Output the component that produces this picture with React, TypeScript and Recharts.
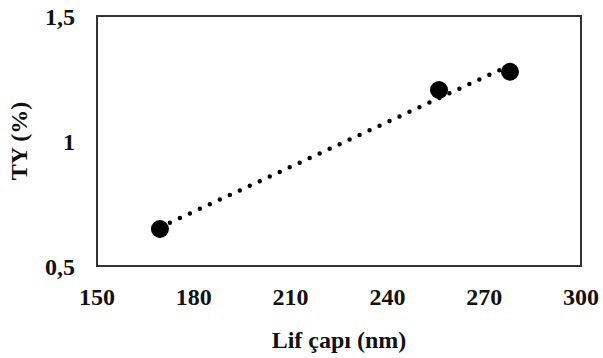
import { ScatterChart, Scatter, XAxis, YAxis, ReferenceArea } from 'recharts';

const diameters = [169.5, 256, 278];
const tyValues = [0.648, 1.204, 1.277];
const xTicks = [150, 180, 210, 240, 270, 300];
const yTicks = [0.5, 1, 1.5];

const points = diameters.map((x, i) => ({ x, y: tyValues[i] }));

// linear trendline (least squares) over the measured points
const n = diameters.length;
const mx = diameters.reduce((a, b) => a + b, 0) / n;
const my = tyValues.reduce((a, b) => a + b, 0) / n;
let sxy = 0;
let sxx = 0;
diameters.forEach((x, i) => {
    sxy += (x - mx) * (tyValues[i] - my);
    sxx += (x - mx) * (x - mx);
});
const slope = sxy / sxx;
const icpt = my - slope * mx;
const trend = [diameters[0], diameters[n - 1]].map(x => ({ x, y: icpt + slope * x }));

const FONT = '"Liberation Serif", "Times New Roman", serif';
const TICK = { fill: '#111', fontSize: 24, fontWeight: 700, fontFamily: FONT };

const Dot = (p: any) => <circle cx={p.cx} cy={p.cy} r={9} fill="#000" />;
const Nothing = () => <g />;

export default function App() {
    return (
        <div style={{ position: 'absolute', left: 0, top: 0, background: '#fff' }}>
            <ScatterChart width={603} height={358} margin={{ top: 16, right: 22, left: 0, bottom: 32 }}>
                <XAxis
                    type="number"
                    dataKey="x"
                    domain={[150, 300]}
                    ticks={xTicks}
                    tickLine={false}
                    axisLine={false}
                    tickSize={0}
                    tickMargin={22}
                    height={60}
                    tick={TICK}
                    label={{ value: 'Lif çapı (nm)', position: 'insideBottom', offset: -22, style: TICK }}
                />
                <YAxis
                    type="number"
                    dataKey="y"
                    domain={[0.5, 1.5]}
                    ticks={yTicks}
                    tickLine={false}
                    axisLine={false}
                    tickSize={0}
                    tickMargin={22}
                    width={97}
                    tick={TICK}
                    tickFormatter={(v: number) => String(v).replace('.', ',')}
                    label={{ value: 'TY (%)', angle: -90, position: 'insideLeft', offset: 18, style: { ...TICK, textAnchor: 'middle' } }}
                />
                <ReferenceArea x1={150} x2={300} y1={0.5} y2={1.5} fill="none" stroke="#333" strokeWidth={2} fillOpacity={0} ifOverflow="visible" />
                <Scatter
                    data={trend}
                    line={{ stroke: '#000', strokeWidth: 4.5, strokeDasharray: '0 11', strokeLinecap: 'round' }}
                    shape={Nothing}
                    isAnimationActive={false}
                />
                <Scatter data={points} fill="#000" shape={Dot} isAnimationActive={false} />
            </ScatterChart>
        </div>
    );
}
